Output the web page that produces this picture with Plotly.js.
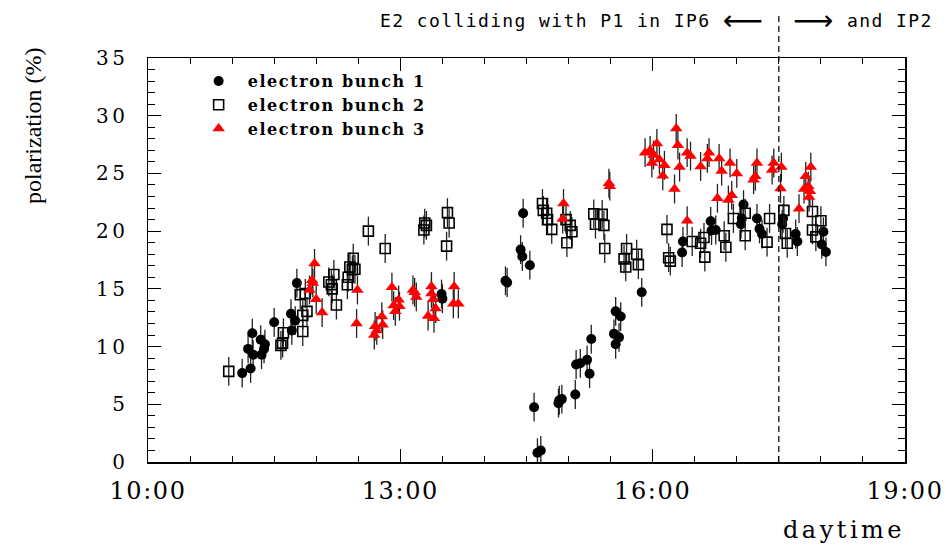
<!DOCTYPE html>
<html>
<head>
<meta charset="utf-8">
<script src="https://cdn.plot.ly/plotly-3.0.1.min.js"></script>
<style>
html,body{margin:0;padding:0;background:#fff;}
#chart{width:946px;height:546px;}
.legendtext{letter-spacing:1.6px;}
.xtick text{letter-spacing:1.6px;}
.ytick text{letter-spacing:3.5px;}
text.annotation-text[style*="Mono"]{letter-spacing:1.4px;}
text.annotation-text[style*="DejaVu Serif"]{letter-spacing:3.5px;}
</style>
</head>
<body>
<div id="chart"></div>
<script>
// time of day in decimal hours, polarization in %
var b1Time = [11.12,11.22,11.19,11.24,11.25,11.35,11.34,11.39,11.38,11.50,11.70,11.75,11.71,11.77,13.49,13.50,14.25,14.27,14.43,14.45,14.46,14.54,14.59,14.63,14.67,14.88,14.89,14.92,15.08,15.09,15.14,15.22,15.25,15.27,15.54,15.56,15.56,15.60,15.62,15.87,16.35,16.36,16.69,16.70,16.75,17.05,17.06,17.08,17.24,17.27,17.30,17.54,17.55,17.70,17.72,18.01,18.03,18.06];
var b1Pol  = [7.7,8.1,9.8,11.15,9.3,9.3,10.6,10.2,9.8,12.1,12.85,12.25,11.4,15.5,14.55,14.15,15.7,15.55,18.4,17.8,21.55,17.05,4.75,0.8,1.0,5.1,5.35,5.45,5.85,8.45,8.55,8.85,7.65,10.65,11.1,10.2,13.05,10.8,12.6,14.7,18.15,19.1,20.85,20.05,20.1,20.6,21.1,22.3,21.1,20.2,19.75,20.6,21.1,19.75,19.1,18.85,19.95,18.2];

var b2Time = [10.96,11.58,11.60,11.61,11.81,11.84,11.84,11.87,11.89,12.15,12.18,12.19,12.21,12.24,12.37,12.38,12.40,12.43,12.44,12.46,12.62,12.82,13.28,13.29,13.31,13.55,13.56,13.58,14.69,14.70,14.74,14.75,14.80,14.97,14.98,15.02,15.04,15.30,15.32,15.40,15.42,15.43,15.66,15.68,15.69,15.81,15.83,16.17,16.19,16.21,16.47,16.57,16.61,16.62,16.85,16.87,16.96,17.10,17.10,17.36,17.39,17.56,17.58,17.60,17.90,17.90,17.94,18.00];
var b2Pol  = [7.85,10.1,10.3,11.2,14.5,11.3,12.7,14.6,13.05,15.6,15.35,15.0,16.25,13.6,15.35,16.0,16.9,16.65,17.65,16.7,20.0,18.5,20.1,20.7,20.5,18.7,21.6,20.7,22.4,21.8,21.55,21.0,20.15,21.0,19.0,20.5,19.95,21.5,20.6,21.45,20.5,18.5,17.6,16.9,18.5,18.0,17.1,20.15,17.7,17.4,19.1,18.95,19.45,17.75,19.6,18.6,21.1,19.6,21.55,19.05,21.1,21.8,19.8,18.95,21.7,20.1,19.5,20.9];

var b3Time = [11.92,11.95,11.96,11.98,12.00,12.07,12.48,12.49,12.69,12.70,12.72,12.78,12.79,12.90,12.92,12.94,12.98,12.99,13.15,13.17,13.19,13.33,13.37,13.37,13.39,13.40,13.42,13.64,13.63,13.69,14.93,14.94,15.48,15.49,15.91,15.97,15.99,16.01,16.05,16.08,16.12,16.14,16.26,16.28,16.30,16.32,16.41,16.41,16.45,16.57,16.65,16.67,16.77,16.79,16.82,16.90,16.92,16.94,17.00,17.20,17.22,17.24,17.42,17.44,17.52,17.53,17.74,17.80,17.82,17.85,17.86,17.87,17.88];
var b3Pol  = [14.9,15.75,15.5,17.2,14.1,12.95,12.0,14.9,11.0,11.75,11.4,12.6,11.9,15.15,13.55,13.05,14.05,13.5,14.9,14.7,14.3,12.65,15.2,14.6,14.1,12.45,13.3,15.2,13.7,13.7,21.05,22.4,24.15,23.9,26.8,27.0,25.9,26.6,27.6,26.2,24.8,25.7,23.65,28.9,27.45,25.55,26.8,20.9,26.5,25.6,26.3,26.8,22.85,26.3,25.2,22.7,25.9,23.1,25.0,24.45,24.75,25.9,25.3,25.9,23.7,25.55,21.95,23.65,24.75,23.9,22.95,23.45,25.55];

var seriesNames = ['electron bunch 1','electron bunch 2','electron bunch 3'];
var xTickVals = [10,13,16,19];
var xTickText = ['10:00','13:00','16:00','19:00'];
var switchTime = 17.5;   // E2 starts colliding also in IP2
var polError = 1.25;     // typical statistical error (%)

var errStyle = {type:'constant', value: polError, color:'#222', thickness:1.3, width:0};

var traces = [
  {x:b1Time, y:b1Pol, name:seriesNames[0], type:'scatter', mode:'markers',
   marker:{symbol:'circle', size:10, color:'#000'}, error_y:errStyle},
  {x:b2Time, y:b2Pol, name:seriesNames[1], type:'scatter', mode:'markers',
   marker:{symbol:'square-open', size:10, color:'#000', line:{width:1.6, color:'#000'}}, error_y:errStyle},
  {x:b3Time, y:b3Pol, name:seriesNames[2], type:'scatter', mode:'markers',
   marker:{symbol:'triangle-up', size:11, color:'#ff0000'}, error_y:errStyle}
];

var serif = 'DejaVu Serif, Liberation Serif, serif';
var axisCommon = {
  showline:true, linecolor:'#000', linewidth:1.5, mirror:'ticks',
  ticks:'inside', tickcolor:'#000', tickwidth:1.2, ticklen:13,
  showgrid:false, zeroline:false
};

var layout = {
  width:946, height:546,
  margin:{l:148, r:41, t:58, b:84},
  paper_bgcolor:'#fff', plot_bgcolor:'#fff',
  showlegend:true,
  legend:{x:0.055, y:0.985, xanchor:'left', yanchor:'top', bgcolor:'rgba(0,0,0,0)',
          font:{family:serif, size:16, color:'#000', weight:'bold'}, itemwidth:48, tracegroupgap:0},
  xaxis:Object.assign({}, axisCommon, {
    range:[10,19], tickmode:'array', tickvals:xTickVals, ticktext:xTickText,
    tickfont:{family:serif, size:24, color:'#000'}, ticklabelstandoff:7,
    ticklabeloverflow:'allow',
    minor:{tick0:10, dtick:0.5, ticks:'inside', ticklen:6, tickcolor:'#000', tickwidth:1}
  }),
  yaxis:Object.assign({}, axisCommon, {
    range:[0,35], tick0:0, dtick:5,
    tickfont:{family:serif, size:20, color:'#000'}, ticklabelstandoff:14,
    minor:{tick0:0, dtick:1, ticks:'inside', ticklen:7, tickcolor:'#000', tickwidth:1}
  }),
  shapes:[
    {type:'line', xref:'x', yref:'paper', x0:switchTime, x1:switchTime, y0:0, y1:1.106,
     line:{color:'#000', width:1.2, dash:'6px,4px'}}
  ],
  annotations:[
    {text:'polarization (%)', xref:'paper', yref:'paper', x:-0.152, y:0.834, textangle:-90,
     xanchor:'center', yanchor:'middle',
     showarrow:false, font:{family:'Liberation Serif, serif', size:24, color:'#000'}},
    {text:'daytime', xref:'paper', yref:'paper', x:0.92, y:-0.168, xanchor:'center', yanchor:'middle',
     showarrow:false, font:{family:serif, size:24, color:'#000'}},
    {text:'E2 colliding with P1 in IP6', xref:'paper', yref:'paper', x:(712-148)/757, y:1.094,
     xanchor:'right', yanchor:'middle', showarrow:false,
     font:{family:'DejaVu Sans Mono, monospace', size:18, color:'#000'}},
    {text:'\u27F5', xref:'paper', yref:'paper', x:(743-148)/757, y:1.094, xanchor:'center', yanchor:'middle',
     showarrow:false, font:{family:'DejaVu Sans, sans-serif', size:28, color:'#000'}},
    {text:'\u27F6', xref:'paper', yref:'paper', x:(813-148)/757, y:1.094, xanchor:'center', yanchor:'middle',
     showarrow:false, font:{family:'DejaVu Sans, sans-serif', size:28, color:'#000'}},
    {text:'and IP2', xref:'paper', yref:'paper', x:(845-148)/757, y:1.094,
     xanchor:'left', yanchor:'middle', showarrow:false,
     font:{family:'DejaVu Sans Mono, monospace', size:18, color:'#000'}}
  ]
};

Plotly.newPlot('chart', traces, layout, {displayModeBar:false, staticPlot:true});
</script>
</body>
</html>
